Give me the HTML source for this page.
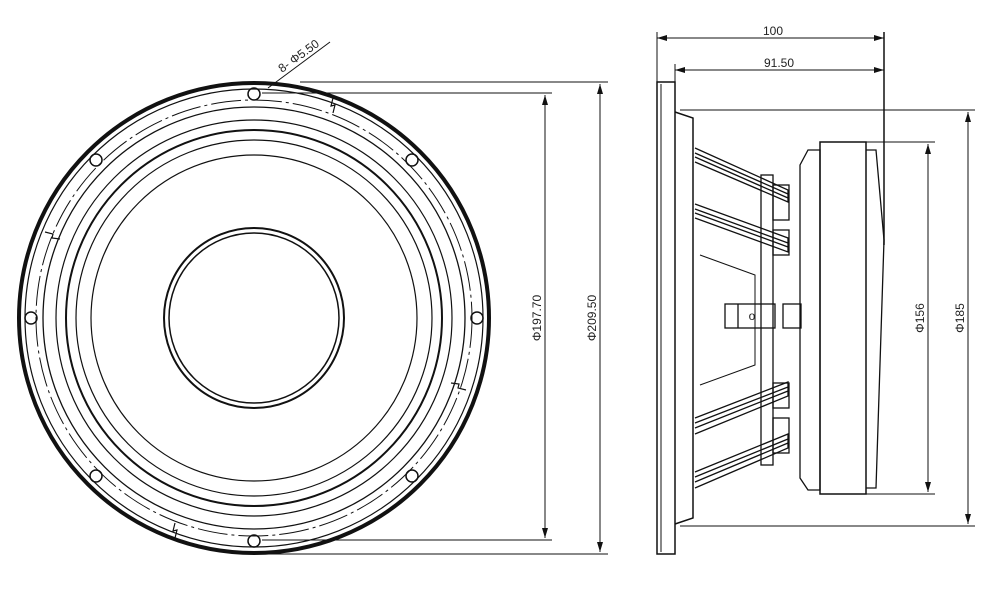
<!DOCTYPE html>
<html><head><style>
html,body{margin:0;padding:0;background:#fff;width:1000px;height:600px;overflow:hidden}
svg text{font-family:"Liberation Sans",sans-serif;font-size:12px;fill:#222}
</style></head><body>
<svg width="1000" height="600" viewBox="0 0 1000 600" xmlns="http://www.w3.org/2000/svg">
<defs>
<marker id="a" markerWidth="10" markerHeight="6" refX="10" refY="3" orient="auto-start-reverse" markerUnits="userSpaceOnUse"><path d="M0,0 L10,3 L0,6 z" fill="#111"/></marker>
</defs>
<g fill="none" stroke="#111">
<!-- front view -->
<circle cx="254" cy="318" r="235" stroke-width="4"/>
<circle cx="254" cy="318" r="229" stroke-width="1.2"/>
<circle cx="254" cy="318" r="218" stroke-width="1" stroke-dasharray="30 4 3 4"/>
<circle cx="254" cy="318" r="211" stroke-width="1.3"/>
<circle cx="254" cy="318" r="198" stroke-width="1.2"/>
<circle cx="254" cy="318" r="188" stroke-width="2"/>
<circle cx="254" cy="318" r="178" stroke-width="1.2"/>
<circle cx="254" cy="318" r="163" stroke-width="1.2"/>
<circle cx="254" cy="318" r="90" stroke-width="2"/>
<circle cx="254" cy="318" r="85" stroke-width="1.5"/>
<g stroke-width="1.5">
<circle cx="254" cy="94" r="6"/><circle cx="254" cy="541" r="6"/>
<circle cx="31" cy="318" r="6"/><circle cx="477" cy="318" r="6"/>
<circle cx="96" cy="160" r="6"/><circle cx="412" cy="160" r="6"/>
<circle cx="96" cy="476" r="6"/><circle cx="412" cy="476" r="6"/>
</g>
<path d="M333,98 l-2,8 l4,-1 l-2,8 M45,232 l8,2 l-1,4 l8,1 M466,390 l-8,-2 l1,-4 l-8,-1 M175,538 l2,-8 l-4,1 l2,-8" stroke-width="1.2"/>
<path d="M268,88 L330,42" stroke-width="1"/>
<line x1="300" y1="82" x2="608" y2="82"/>
<line x1="262" y1="93" x2="552" y2="93"/>
<line x1="262" y1="540" x2="552" y2="540"/>
<line x1="254" y1="554" x2="608" y2="554"/>
<line x1="545" y1="95" x2="545" y2="538" marker-start="url(#a)" marker-end="url(#a)"/>
<line x1="600" y1="84" x2="600" y2="552" marker-start="url(#a)" marker-end="url(#a)"/>
<!-- side view -->
<rect x="657" y="82" width="18" height="472" stroke-width="1.5"/>
<line x1="661" y1="84" x2="661" y2="552"/>
<path d="M675,112 L693,118 L693,518 L675,524" stroke-width="1.5"/>
<line x1="657" y1="38" x2="884" y2="38" marker-start="url(#a)" marker-end="url(#a)"/>
<line x1="657" y1="32" x2="657" y2="82"/>
<line x1="675" y1="70" x2="884" y2="70" marker-start="url(#a)" marker-end="url(#a)"/>
<line x1="675" y1="64" x2="675" y2="82"/>
<line x1="884" y1="32" x2="884" y2="245" stroke-width="1.5"/>
<line x1="680" y1="110" x2="975" y2="110"/>
<line x1="680" y1="526" x2="975" y2="526"/>
<line x1="968" y1="112" x2="968" y2="524" marker-start="url(#a)" marker-end="url(#a)"/>
<!-- struts -->
<g stroke-width="1.3">
<path d="M695,148 L788,190 L788,202 L695,162 M695,153 L788,194 M695,157 L788,198"/>
<path d="M695,204 L788,238 L788,252 L695,218 M695,209 L788,243 M695,213 L788,247"/>
<path d="M695,418 L788,382 L788,396 L695,434 M695,423 L788,387 M695,428 L788,391"/>
<path d="M695,472 L788,434 L788,448 L695,488 M695,477 L788,439 M695,482 L788,443"/>
<rect x="761" y="175" width="12" height="290"/>
<rect x="773" y="185" width="16" height="35"/><rect x="773" y="230" width="16" height="25"/>
<rect x="773" y="383" width="16" height="25"/><rect x="773" y="418" width="16" height="35"/>
<path d="M700,255 L755,275 L755,365 L700,385" stroke-width="1"/>
<rect x="725" y="304" width="50" height="24"/><line x1="738" y1="304" x2="738" y2="328"/>
<rect x="783" y="304" width="18" height="24"/>
<path d="M808,150 L800,165 L800,478 L808,490 L820,490 L820,150 Z"/>
<rect x="820" y="142" width="46" height="352" stroke-width="1.5"/>
<path d="M866,150 L876,150 L884,240 L876,488 L866,488"/>
</g>
<line x1="866" y1="142" x2="935" y2="142"/>
<line x1="866" y1="494" x2="935" y2="494"/>
<line x1="928" y1="144" x2="928" y2="492" marker-start="url(#a)" marker-end="url(#a)"/>
</g>
<text x="282" y="73" transform="rotate(-36 282 73)" font-size="11">8- Φ5.50</text>
<text x="541" y="318" transform="rotate(-90 541 318)" text-anchor="middle">Φ197.70</text>
<text x="596" y="318" transform="rotate(-90 596 318)" text-anchor="middle">Φ209.50</text>
<text x="773" y="35" text-anchor="middle">100</text>
<text x="779" y="67" text-anchor="middle">91.50</text>
<text x="924" y="318" transform="rotate(-90 924 318)" text-anchor="middle">Φ156</text>
<text x="964" y="318" transform="rotate(-90 964 318)" text-anchor="middle">Φ185</text>
<text x="752" y="320" text-anchor="middle" font-size="11">o</text>
</svg>
</body></html>
